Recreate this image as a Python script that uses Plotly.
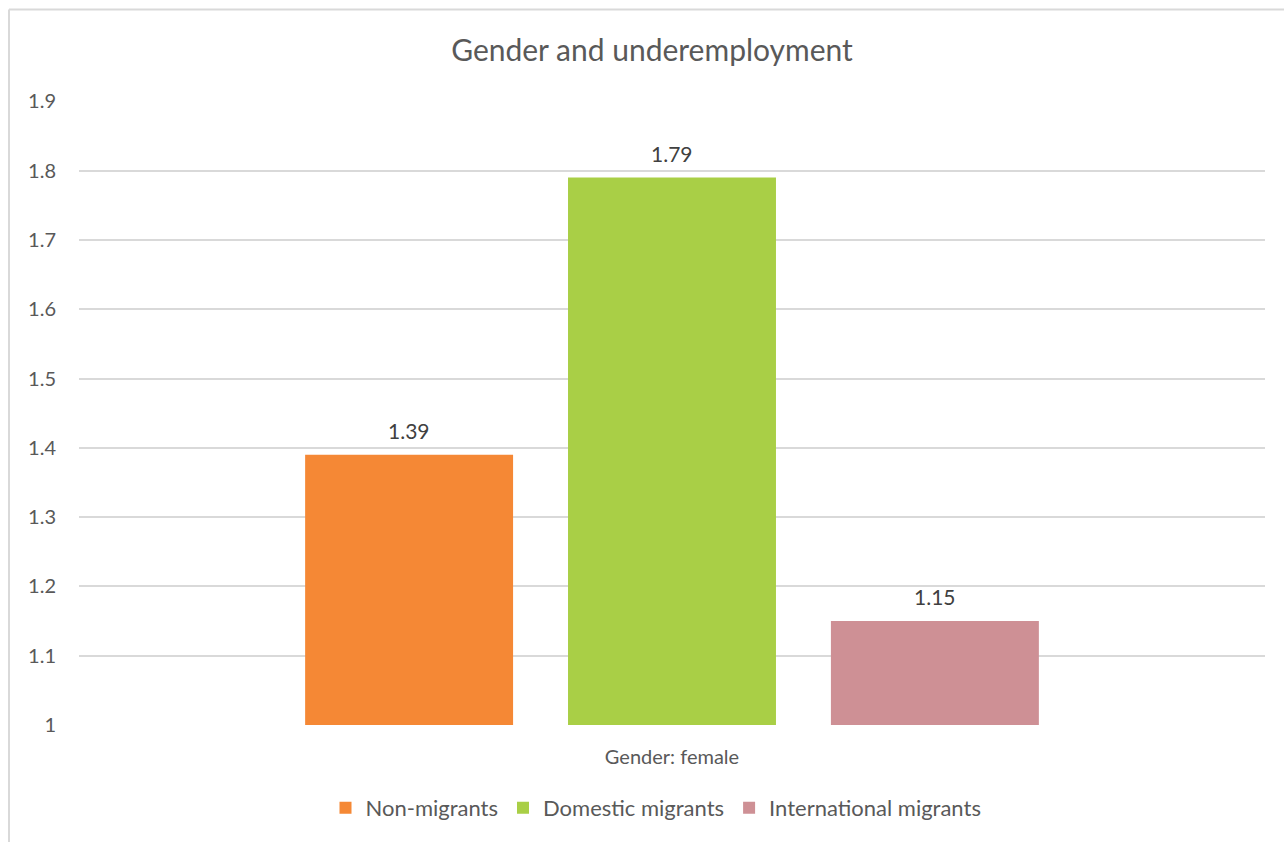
import plotly.graph_objects as go

categories = ["Gender: female"]
series_names = ["Non-migrants", "Domestic migrants", "International migrants"]
series_values = [[1.39], [1.79], [1.15]]
colors = ["#F58835", "#A9CF46", "#CE9095"]
y_ticks = [1, 1.1, 1.2, 1.3, 1.4, 1.5, 1.6, 1.7, 1.8, 1.9]

FONT = "Lato, 'Open Sans', sans-serif"
GRAY = "#595959"

fig = go.Figure()
for name, vals, c in zip(series_names, series_values, colors):
    fig.add_trace(go.Bar(
        x=categories, y=[v - 1 for v in vals], base=1, name=name,
        marker=dict(color=c, line=dict(width=0)),
        hoverinfo="name+y",
    ))

L, R, T, B = 79, 19, 101, 117
W, H = 1284, 842
pw, ph = W - L - R, H - T - B

# data labels above each bar (offset like the original)
for i, (name, vals) in enumerate(zip(series_names, series_values)):
    for cat, v in zip(categories, vals):
        fig.add_annotation(x=cat, y=v, xref="x", yref="y", text=f"{v:.2f}",
                           showarrow=False, yanchor="bottom", yshift=10,
                           xshift=(i - 1) * 263,
                           font=dict(size=21, color="#404040", family=FONT))

fig.update_layout(
    width=W, height=H,
    margin=dict(l=L, r=R, t=T, b=B),
    paper_bgcolor="white", plot_bgcolor="white",
    barmode="group", bargap=0.335, bargroupgap=0.209,
    title=dict(text="Gender and underemployment", x=(652 - L) / pw, xref="paper",
               y=1 - 50 / H, yref="container", xanchor="center", yanchor="middle",
               font=dict(size=30, color=GRAY, family=FONT)),
    font=dict(family=FONT, color=GRAY, size=20),
    xaxis=dict(showgrid=False, showline=False, ticks="", ticklabelstandoff=18,
               tickfont=dict(size=20, color=GRAY)),
    yaxis=dict(range=[1, 1.9005], tickvals=y_ticks, ticktext=[f"{t:g}" for t in y_ticks],
               showgrid=True, gridcolor="#D9D9D9", gridwidth=1.5, zeroline=False,
               showline=False, ticks="", ticklabelstandoff=22,
               tickfont=dict(size=20, color=GRAY)),
    legend=dict(orientation="h", x=(656 - L) / pw, xanchor="center",
                y=-(808 - (H - B)) / ph, yanchor="middle",
                font=dict(size=22, color=GRAY, family=FONT), itemwidth=30,
                traceorder="normal"),
    showlegend=True,
)

# chart frame (top and left edges)
fig.add_shape(type="line", xref="paper", yref="paper",
              x0=(9 - L) / pw, x1=(W - L) / pw, y0=(H - B - 9.5) / ph, y1=(H - B - 9.5) / ph,
              line=dict(color="#D9D9D9", width=2))
fig.add_shape(type="line", xref="paper", yref="paper",
              x0=(9 - L) / pw, x1=(9 - L) / pw, y0=(H - B - 9.5) / ph, y1=-(B) / ph,
              line=dict(color="#D9D9D9", width=2))

fig.write_html("out.html")
